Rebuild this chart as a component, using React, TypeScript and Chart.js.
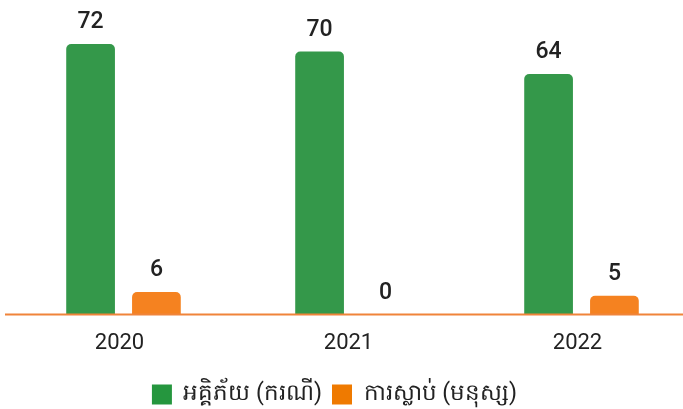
import React, { useEffect, useRef } from "react";
import { Chart, registerables } from "chart.js";

Chart.register(...registerables);

const categories = ["2020", "2021", "2022"];
const fireCases = [72, 70, 64];
const deaths = [6, 0, 5];
const seriesLabels = ["អគ្គិភ័យ (ករណី)", "ការស្លាប់ (មនុស្ស)"];

const GREEN = "#34984a";
const ORANGE = "#f58220";
const LEGEND_GREEN = "#25963e";
const LEGEND_ORANGE = "#ef7a00";

const valueLabels = {
  id: "valueLabels",
  afterDatasetsDraw(chart: any) {
    const ctx = chart.ctx;
    ctx.save();
    ctx.font = "500 23px Roboto, 'Noto Sans', sans-serif";
    ctx.fillStyle = "#222222";
    ctx.textAlign = "center";
    ctx.textBaseline = "bottom";
    chart.data.datasets.forEach((ds: any, i: number) => {
      const meta = chart.getDatasetMeta(i);
      meta.data.forEach((bar: any, j: number) => {
        ctx.fillText(String(ds.data[j]), bar.x, bar.y - 10);
      });
    });
    ctx.restore();
  },
};

const baseline = {
  id: "baseline",
  afterDatasetsDraw(chart: any) {
    const ctx = chart.ctx;
    const y = chart.scales.y.getPixelForValue(0);
    ctx.save();
    ctx.strokeStyle = "#f0843a";
    ctx.lineWidth = 2;
    ctx.beginPath();
    ctx.moveTo(5, y);
    ctx.lineTo(chart.width, y);
    ctx.stroke();
    ctx.restore();
  },
};

const legendShift = {
  id: "legendShift",
  afterLayout(chart: any) {
    const lg = chart.legend;
    if (lg) {
      lg.left -= 18;
      lg.right -= 18;
    }
  },
};

export default function App() {
  const ref = useRef<HTMLCanvasElement>(null);
  useEffect(() => {
    const chart = new Chart(ref.current!, {
      type: "bar",
      data: {
        labels: categories,
        datasets: [
          {
            label: seriesLabels[0],
            data: fireCases,
            backgroundColor: GREEN,
            borderRadius: 5,
            borderSkipped: "bottom",
            barPercentage: 0.74,
            categoryPercentage: 0.575,
          },
          {
            label: seriesLabels[1],
            data: deaths,
            backgroundColor: ORANGE,
            borderRadius: 5,
            borderSkipped: "bottom",
            barPercentage: 0.74,
            categoryPercentage: 0.575,
          },
        ],
      },
      options: {
        responsive: true,
        maintainAspectRatio: false,
        animation: false,
        layout: { padding: { top: 14, left: 9, right: 0, bottom: 0 } },
        scales: {
          x: {
            grid: { display: false, drawTicks: false },
            border: { display: false },
            ticks: {
              color: "#222222",
              font: { family: "Roboto, 'Noto Sans', sans-serif", size: 22 },
              padding: 16,
              labelOffset: -4,
            },
          },
          y: {
            display: false,
            min: 0,
            max: 80,
          },
        },
        plugins: {
          legend: {
            position: "bottom",
            labels: {
              boxWidth: 20,
              boxHeight: 20,
              padding: 10,
              color: "#222222",
              font: { family: "Roboto, 'Noto Sans', sans-serif", size: 23 },
              generateLabels: () =>
                seriesLabels.map((t, i) => ({
                  text: t,
                  fillStyle: i === 0 ? LEGEND_GREEN : LEGEND_ORANGE,
                  strokeStyle: i === 0 ? LEGEND_GREEN : LEGEND_ORANGE,
                  lineWidth: 0,
                  datasetIndex: i,
                  hidden: false,
                  fontColor: "#222222",
                })),
            },
          },
          tooltip: { enabled: false },
        },
      },
      plugins: [valueLabels, baseline, legendShift],
    });
    return () => chart.destroy();
  }, []);
  return (
    <div style={{ position: "fixed", left: 0, top: 0, width: 696, height: 416, background: "#fff" }}>
      <canvas ref={ref} />
    </div>
  );
}
